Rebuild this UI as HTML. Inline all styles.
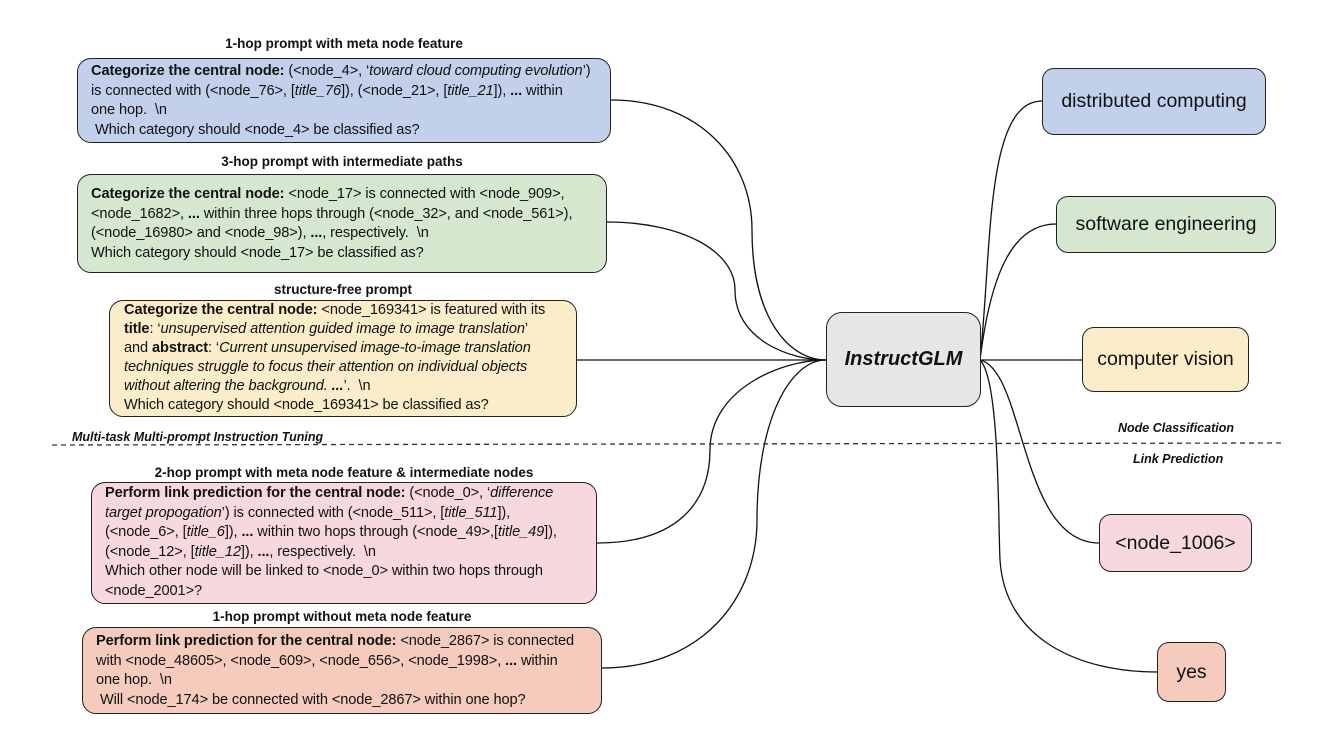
<!DOCTYPE html>
<html><head><meta charset="utf-8"><style>
body{margin:0;width:1322px;height:729px;background:#fff;position:relative;overflow:hidden;font-family:"Liberation Sans",sans-serif;color:#111}
.b{position:absolute;border:1.5px solid #222;border-radius:14px;box-sizing:border-box;font-size:14.6px;line-height:19.5px;white-space:nowrap;letter-spacing:-0.1px}
.t{position:absolute;font-weight:bold;font-size:13.5px;text-align:center;white-space:nowrap}
.r{position:absolute;border:1.5px solid #222;border-radius:12px;box-sizing:border-box;display:flex;align-items:center;justify-content:center;font-size:19.5px}
.l{position:absolute;font-weight:bold;font-style:italic;font-size:12.5px;white-space:nowrap}
svg{position:absolute;left:0;top:0}
</style></head><body>
<svg width="1322" height="729"><g fill="none" stroke="#111" stroke-width="1.3">
<path d="M611,100 C700,100 752,160 752,230 C752,320 790,360 826,360"/>
<path d="M607,222 C680,222 735,250 735,290 C735,340 790,360 826,360"/>
<path d="M577,360 L826,360"/>
<path d="M597,543 C680,543 710,500 710,450 C710,390 780,360 826,360"/>
<path d="M602,668 C700,668 757,600 757,520 C757,420 790,360 826,360"/>
<path d="M980,360 C992,250 985,101 1042,101"/>
<path d="M980,360 C990,280 1010,224 1056,224"/>
<path d="M980,360 L1082,360"/>
<path d="M980,360 C1025,370 1020,543 1099,543"/>
<path d="M980,360 C1000,380 998,520 1000,560 C1005,640 1080,672 1157,672"/>
</g>
<line x1="52" y1="445" x2="1282" y2="443" stroke="#333" stroke-width="1.3" stroke-dasharray="5,4"/>
</svg>
<div class="t" style="left:77px;width:534px;top:36px">1-hop prompt with meta node feature</div>
<div class="b" style="left:77px;top:58px;width:534px;height:85px;background:#c3d0ec;padding:3px 0 0 13px"><b>Categorize the central node:</b> (&lt;node_4&gt;, ‘<i>toward cloud computing evolution</i>’)<br>is connected with (&lt;node_76&gt;, [<i>title_76</i>]), (&lt;node_21&gt;, [<i>title_21</i>]), <b>...</b> within<br>one hop.&nbsp; \n<br>&nbsp;Which category should &lt;node_4&gt; be classified as?</div>
<div class="t" style="left:77px;width:530px;top:154px">3-hop prompt with intermediate paths</div>
<div class="b" style="left:77px;top:174px;width:530px;height:99px;background:#d5e8cf;padding:10px 0 0 13px"><b>Categorize the central node:</b> &lt;node_17&gt; is connected with &lt;node_909&gt;,<br>&lt;node_1682&gt;, <b>...</b> within three hops through (&lt;node_32&gt;, and &lt;node_561&gt;),<br>(&lt;node_16980&gt; and &lt;node_98&gt;), <b>...</b>, respectively.&nbsp; \n<br>Which category should &lt;node_17&gt; be classified as?</div>
<div class="t" style="left:109px;width:468px;top:282px">structure-free prompt</div>
<div class="b" style="left:109px;top:300px;width:468px;height:117px;background:#fbedc9;padding:0 0 0 14px;line-height:19px"><b>Categorize the central node:</b> &lt;node_169341&gt; is featured with its<br><b>title</b>: ‘<i>unsupervised attention guided image to image translation</i>’<br>and <b>abstract</b>: ‘<i>Current unsupervised image-to-image translation<br>techniques struggle to focus their attention on individual objects<br>without altering the background. <b>...</b></i>’.&nbsp; \n<br>Which category should &lt;node_169341&gt; be classified as?</div>
<div class="l" style="left:72px;top:430px">Multi-task Multi-prompt Instruction Tuning</div>
<div class="l" style="left:1118px;top:421px">Node Classification</div>
<div class="l" style="left:1133px;top:452px">Link Prediction</div>
<div class="t" style="left:91px;width:506px;top:465px">2-hop prompt with meta node feature &amp; intermediate nodes</div>
<div class="b" style="left:91px;top:482px;width:506px;height:122px;background:#f7d8dd;padding:1px 0 0 13px"><b>Perform link prediction for the central node:</b> (&lt;node_0&gt;, ‘<i>difference<br>target propogation</i>’) is connected with (&lt;node_511&gt;, [<i>title_511</i>]),<br>(&lt;node_6&gt;, [<i>title_6</i>]), <b>...</b> within two hops through (&lt;node_49&gt;,[<i>title_49</i>]),<br>(&lt;node_12&gt;, [<i>title_12</i>]), <b>...</b>, respectively.&nbsp; \n<br>Which other node will be linked to &lt;node_0&gt; within two hops through<br>&lt;node_2001&gt;?</div>
<div class="t" style="left:82px;width:520px;top:609px">1-hop prompt without meta node feature</div>
<div class="b" style="left:82px;top:627px;width:520px;height:87px;background:#f5cbbd;padding:4px 0 0 13px"><b>Perform link prediction for the central node:</b> &lt;node_2867&gt; is connected<br>with &lt;node_48605&gt;, &lt;node_609&gt;, &lt;node_656&gt;, &lt;node_1998&gt;, <b>...</b> within<br>one hop.&nbsp; \n<br>&nbsp;Will &lt;node_174&gt; be connected with &lt;node_2867&gt; within one hop?</div>
<div class="r" style="left:826px;top:312px;width:155px;height:95px;background:#e6e6e6;border-radius:16px;font-size:20px;font-weight:bold;font-style:italic">InstructGLM</div>
<div class="r" style="left:1042px;top:68px;width:224px;height:67px;background:#c3d0ec">distributed computing</div>
<div class="r" style="left:1056px;top:196px;width:220px;height:57px;background:#d5e8cf">software engineering</div>
<div class="r" style="left:1082px;top:327px;width:167px;height:65px;background:#fbedc9">computer vision</div>
<div class="r" style="left:1099px;top:514px;width:153px;height:58px;background:#f7d8dd">&lt;node_1006&gt;</div>
<div class="r" style="left:1157px;top:642px;width:69px;height:60px;background:#f5cbbd">yes</div>
</body></html>
